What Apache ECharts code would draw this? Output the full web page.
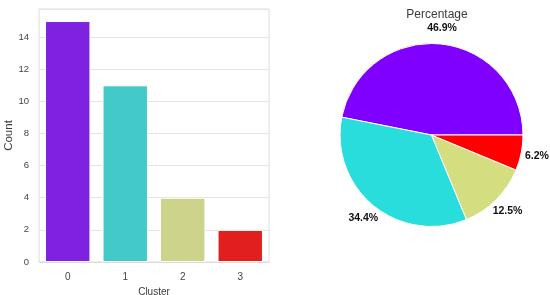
<!DOCTYPE html>
<html><head><meta charset="utf-8">
<script src="https://cdn.jsdelivr.net/npm/echarts@6/dist/echarts.min.js"></script>
<style>html,body{margin:0;padding:0;background:#fff}#c{width:550px;height:295px}</style>
</head><body><div id="c"></div>
<script>
const clusters = ['0', '1', '2', '3'];
const counts = [15, 11, 4, 2];
const yTicks = [0, 2, 4, 6, 8, 10, 12, 14];
const barColors = ['#7e21e0', '#44c9c9', '#cdd38a', '#e11f1f'];
const pieColors = ['#8000ff', '#2adddd', '#d4dd80', '#ff0000'];
const pieTitle = 'Percentage';

const total = counts.reduce((a, b) => a + b, 0);
// one-decimal formatting with round-half-to-even (like Python's '%1.1f')
function fmt1(x) {
  const t = x * 10, f = Math.floor(t), d = t - f;
  let r;
  if (Math.abs(d - 0.5) < 1e-9) r = (f % 2 === 0) ? f : f + 1;
  else r = Math.round(t);
  return (r / 10).toFixed(1);
}
const font = 'Liberation Sans, Arial, sans-serif';
const chart = echarts.init(document.getElementById('c'), null, {renderer: 'canvas'});
chart.setOption({
  animation: false,
  textStyle: {fontFamily: font},
  title: [{
    text: pieTitle, left: 432, top: 4, textAlign: 'center',
    textStyle: {fontSize: 12, fontWeight: 'normal', color: '#3a3a3a', fontFamily: font}
  }],
  grid: {left: 39, right: 281, top: 9, bottom: 33, show: true, borderColor: '#dcdcdc', borderWidth: 1,
    outerBoundsMode: 'none', containLabel: false},
  xAxis: {
    type: 'category', data: clusters, name: 'Cluster', nameLocation: 'middle', nameGap: 17,
    nameTextStyle: {fontSize: 10, color: '#3a3a3a'},
    axisLine: {lineStyle: {color: '#dcdcdc'}}, axisTick: {show: false},
    axisLabel: {fontSize: 10, color: '#444', margin: 10}
  },
  yAxis: {
    type: 'value', min: 0, max: 15.75, interval: 2, name: 'Count', nameLocation: 'middle', nameGap: 22,
    nameTextStyle: {fontSize: 11.5, color: '#3a3a3a'},
    axisLine: {show: false}, axisTick: {show: false},
    axisLabel: {fontSize: 9.5, color: '#444', margin: 10,
      formatter: v => yTicks.indexOf(v) >= 0 ? String(v) : ''},
    splitLine: {lineStyle: {color: '#e4e4e4', width: 1}}
  },
  series: [{
    type: 'bar', data: counts.map((v, i) => ({value: v, itemStyle: {color: barColors[i]}})),
    barWidth: '79%', itemStyle: {borderColor: '#fff', borderWidth: 1}
  }, {
    type: 'pie', center: [431.5, 135], radius: 91.5, startAngle: 0, clockwise: false,
    avoidLabelOverlap: false,
    data: counts.map((v, i) => ({value: v, name: clusters[i], itemStyle: {color: pieColors[i]}})),
    itemStyle: {borderColor: '#fff', borderWidth: 1},
    label: {show: true, position: 'outside', fontSize: 10.5, fontWeight: 'bold', color: '#111',
      formatter: p => fmt1(p.value / total * 100) + '%', distanceToLabelLine: 0},
    labelLine: {show: false, length: 16, length2: 0},
    labelLayout: p => {
      const pts = p.labelLinePoints;
      if (!pts) return {};
      const e = pts[pts.length - 1];
      return {x: e[0], y: e[1], align: 'center', verticalAlign: 'middle', hideOverlap: false};
    }
  }]
});
</script></body></html>
